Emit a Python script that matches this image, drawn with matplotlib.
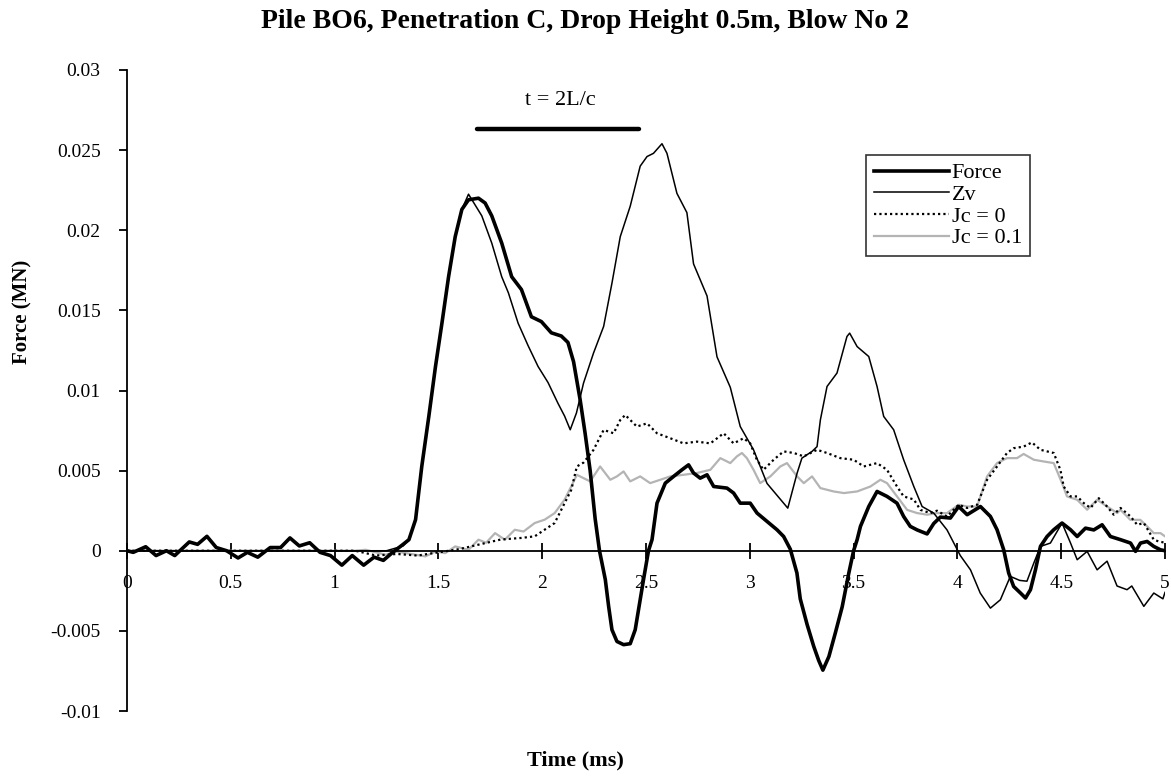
import matplotlib
matplotlib.use("Agg")
import matplotlib.pyplot as plt
from matplotlib.ticker import FixedLocator, FuncFormatter

plt.rcParams["font.family"] = ["Liberation Serif", "DejaVu Serif"]

# Valeurs : (temps en ms, force en mN)
force_pts = [
    (0, 0), (0.03, -0.1), (0.09, 0.25), (0.14, -0.3), (0.19, 0), (0.23, -0.3),
    (0.30, 0.55), (0.34, 0.4), (0.385, 0.9), (0.43, 0.2), (0.48, 0), (0.535, -0.45),
    (0.58, -0.1), (0.63, -0.4), (0.69, 0.2), (0.74, 0.2), (0.785, 0.8), (0.83, 0.3),
    (0.88, 0.5), (0.93, -0.1), (0.98, -0.3), (1.035, -0.9), (1.085, -0.3), (1.14, -0.9),
    (1.19, -0.4), (1.235, -0.6), (1.28, -0.1), (1.33, 0.4), (1.358, 0.69), (1.39, 1.94),
    (1.42, 5.27), (1.454, 8.4), (1.486, 11.5), (1.517, 14.2), (1.549, 17.1), (1.581, 19.6),
    (1.613, 21.3), (1.645, 21.9), (1.693, 22.0), (1.725, 21.7), (1.757, 20.9), (1.805, 19.2),
    (1.853, 17.1), (1.9, 16.3), (1.948, 14.6), (1.996, 14.3), (2.044, 13.6), (2.092, 13.4),
    (2.124, 13.0), (2.151, 11.8), (2.183, 9.4), (2.207, 7.3), (2.231, 5.0), (2.255, 2.0),
    (2.276, 0), (2.304, -1.8), (2.32, -3.47), (2.336, -4.93), (2.36, -5.66), (2.392, -5.86),
    (2.424, -5.8), (2.448, -4.93), (2.464, -3.68), (2.488, -1.8), (2.512, 0), (2.529, 0.69),
    (2.553, 2.97), (2.593, 4.22), (2.633, 4.64), (2.673, 5.05), (2.705, 5.36), (2.729, 4.85),
    (2.761, 4.53), (2.794, 4.74), (2.826, 4.01), (2.89, 3.91), (2.922, 3.6), (2.954, 2.97),
    (3.002, 2.97), (3.035, 2.35), (3.083, 1.83), (3.131, 1.31), (3.163, 0.89), (3.195, 0.1),
    (3.227, -1.39), (3.243, -3.0), (3.276, -4.6), (3.308, -5.97), (3.332, -6.85), (3.352, -7.45),
    (3.381, -6.6), (3.412, -5.13), (3.445, -3.5), (3.477, -1.39), (3.5, 0), (3.517, 0.69),
    (3.533, 1.52), (3.573, 2.76), (3.613, 3.7), (3.661, 3.39), (3.709, 2.97), (3.741, 2.14),
    (3.773, 1.52), (3.806, 1.3), (3.854, 1.05), (3.886, 1.7), (3.918, 2.1), (3.966, 2.04),
    (4.006, 2.76), (4.047, 2.25), (4.111, 2.76), (4.159, 2.14), (4.191, 1.31), (4.223, 0.06),
    (4.247, -1.39), (4.271, -2.23), (4.304, -2.64), (4.328, -2.95), (4.352, -2.43), (4.376, -1.19),
    (4.4, 0.27), (4.432, 0.89), (4.464, 1.31), (4.504, 1.73), (4.545, 1.31), (4.577, 0.89),
    (4.617, 1.41), (4.657, 1.3), (4.697, 1.62), (4.737, 0.89), (4.786, 0.69), (4.834, 0.48),
    (4.858, -0.04), (4.882, 0.48), (4.914, 0.58), (4.946, 0.27), (4.978, 0.06), (5.0, 0.0),
]

zv_pts = [
    (0, 0), (1.0, 0), (1.25, 0), (1.33, 0.3), (1.358, 0.69), (1.39, 1.94), (1.42, 5.27),
    (1.454, 8.4), (1.486, 11.5), (1.517, 14.2), (1.549, 17.1), (1.581, 19.6), (1.613, 21.3),
    (1.645, 22.25), (1.709, 20.9), (1.757, 19.2), (1.805, 17.1), (1.837, 16.1), (1.884, 14.2),
    (1.932, 12.8), (1.98, 11.5), (2.028, 10.5), (2.076, 9.2), (2.108, 8.4), (2.135, 7.55),
    (2.165, 8.6), (2.199, 10.46), (2.247, 12.33), (2.296, 14.0), (2.336, 16.7), (2.376, 19.6),
    (2.424, 21.5), (2.472, 24.0), (2.505, 24.6), (2.536, 24.8), (2.577, 25.4), (2.601, 24.8),
    (2.649, 22.3), (2.697, 21.1), (2.729, 17.9), (2.794, 15.9), (2.842, 12.1), (2.906, 10.2),
    (2.954, 7.75), (3.018, 6.3), (3.083, 4.2), (3.183, 2.66), (3.228, 4.85), (3.251, 5.78),
    (3.3, 6.2), (3.324, 6.5), (3.34, 8.17), (3.372, 10.25), (3.42, 11.09), (3.468, 13.37),
    (3.481, 13.58), (3.517, 12.74), (3.573, 12.12), (3.613, 10.25), (3.645, 8.38), (3.693, 7.55),
    (3.741, 5.68), (3.79, 4.01), (3.83, 2.76), (3.886, 2.35), (3.95, 1.3), (4.014, -0.3),
    (4.063, -1.19), (4.11, -2.64), (4.159, -3.58), (4.207, -3.06), (4.255, -1.6), (4.3, -1.85),
    (4.335, -1.9), (4.368, -0.77), (4.4, 0.27), (4.448, 0.48), (4.504, 1.73), (4.545, 0.48),
    (4.577, -0.56), (4.625, -0.04), (4.673, -1.19), (4.721, -0.65), (4.769, -2.2), (4.817, -2.43),
    (4.84, -2.2), (4.898, -3.47), (4.946, -2.64), (4.99, -3.0), (5.0, -2.6),
]

jc0_pts = [
    (0, 0), (0.8, 0), (1.1, 0), (1.2, -0.3), (1.3, -0.2), (1.4, -0.3), (1.5, -0.1), (1.6, 0.1),
    (1.7, 0.4), (1.8, 0.7), (1.9, 0.8), (1.964, 0.9), (2.06, 1.73), (2.14, 3.8), (2.167, 5.26),
    (2.199, 5.5), (2.247, 6.29), (2.296, 7.54), (2.344, 7.33), (2.376, 8.16), (2.4, 8.47),
    (2.456, 7.75), (2.505, 7.95), (2.553, 7.33), (2.617, 7.02), (2.681, 6.7), (2.745, 6.81),
    (2.81, 6.7), (2.874, 7.33), (2.922, 6.7), (2.97, 7.02), (3.002, 6.7), (3.034, 5.68),
    (3.066, 5.05), (3.115, 5.68), (3.163, 6.2), (3.212, 6.1), (3.26, 5.89), (3.324, 6.3),
    (3.372, 6.1), (3.436, 5.78), (3.5, 5.68), (3.549, 5.26), (3.613, 5.47), (3.661, 5.05),
    (3.709, 4.01), (3.741, 3.39), (3.79, 3.2), (3.822, 2.55), (3.87, 2.35), (3.902, 2.5),
    (3.95, 2.14), (4.006, 2.87), (4.047, 2.67), (4.095, 2.87), (4.143, 4.43), (4.191, 5.26),
    (4.239, 6.1), (4.271, 6.4), (4.319, 6.5), (4.359, 6.76), (4.4, 6.3), (4.432, 6.2),
    (4.464, 6.1), (4.496, 5.05), (4.512, 4.01), (4.545, 3.39), (4.577, 3.39), (4.609, 2.97),
    (4.641, 2.67), (4.681, 3.28), (4.721, 2.76), (4.753, 2.25), (4.786, 2.67), (4.834, 2.14),
    (4.866, 1.62), (4.898, 1.73), (4.946, 0.69), (4.97, 0.58), (5.0, 0.5),
]

jc01_pts = [
    (0, 0), (1.1, 0), (1.15, 0.06), (1.246, -0.25), (1.3, -0.05), (1.342, -0.15), (1.39, -0.25),
    (1.438, -0.35), (1.486, -0.04), (1.533, -0.15), (1.581, 0.27), (1.645, 0.06), (1.693, 0.69),
    (1.73, 0.5), (1.773, 1.1), (1.82, 0.69), (1.868, 1.31), (1.91, 1.2), (1.964, 1.73),
    (2.012, 1.94), (2.06, 2.35), (2.108, 3.19), (2.14, 4.02), (2.167, 4.74), (2.199, 4.53),
    (2.231, 4.33), (2.279, 5.26), (2.328, 4.43), (2.36, 4.64), (2.392, 4.95), (2.424, 4.33),
    (2.472, 4.64), (2.52, 4.22), (2.569, 4.43), (2.617, 4.64), (2.681, 4.74), (2.745, 4.85),
    (2.81, 5.05), (2.858, 5.78), (2.906, 5.47), (2.938, 5.89), (2.962, 6.1), (2.986, 5.78),
    (3.018, 5.05), (3.05, 4.22), (3.099, 4.64), (3.147, 5.26), (3.179, 5.47), (3.228, 4.64),
    (3.26, 4.22), (3.3, 4.64), (3.34, 3.91), (3.404, 3.7), (3.453, 3.6), (3.517, 3.7),
    (3.581, 4.01), (3.629, 4.43), (3.661, 4.22), (3.709, 3.39), (3.758, 2.55), (3.806, 2.35),
    (3.854, 2.25), (3.902, 2.35), (3.95, 2.35), (4.006, 2.87), (4.047, 2.76), (4.095, 2.76),
    (4.143, 4.64), (4.191, 5.47), (4.239, 5.78), (4.287, 5.78), (4.319, 6.04), (4.368, 5.68),
    (4.416, 5.57), (4.464, 5.47), (4.504, 4.22), (4.528, 3.39), (4.577, 3.18), (4.625, 2.56),
    (4.673, 3.18), (4.721, 2.76), (4.77, 2.35), (4.785, 2.56), (4.833, 1.93), (4.881, 1.93),
    (4.914, 1.52), (4.946, 1.1), (4.978, 1.1), (5.0, 0.9),
]

x_ticks = [0, 0.5, 1, 1.5, 2, 2.5, 3, 3.5, 4, 4.5, 5]
y_ticks = [-0.01, -0.005, 0, 0.005, 0.01, 0.015, 0.02, 0.025, 0.03]

# repère t = 2L/c
t_bar_start, t_bar_end, t_bar_level = 1.687, 2.467, 0.0263
t_label_x, t_label_y = 2.087, 0.0281


def split(pts):
    t, v = zip(*pts)
    return list(t), [x / 1000.0 for x in v]  # mN -> MN


fig = plt.figure(figsize=(11.71, 7.76), dpi=100)
ax = fig.add_axes([127 / 1171, 1 - 711 / 776, 1038 / 1171, 641 / 776])

t, v = split(jc01_pts)
l4, = ax.plot(t, v, color="#b4b4b4", lw=1.6, label="Jc = 0.1")
t, v = split(jc0_pts)
l3, = ax.plot(t, v, color="black", lw=1.6, ls=(0, (1, 1.4)), label="Jc = 0")
t, v = split(zv_pts)
l2, = ax.plot(t, v, color="black", lw=1.1, label="Zv")
t, v = split(force_pts)
l1, = ax.plot(t, v, color="black", lw=2.6, label="Force")

ax.plot([t_bar_start, t_bar_end], [t_bar_level, t_bar_level], color="black", lw=3.2,
        solid_capstyle="round")
ax.text(t_label_x, t_label_y, "t = 2L/c", ha="center", va="center", fontsize=16)

ax.set_xlim(0, 5)
ax.set_ylim(-0.01, 0.03)
ax.spines["top"].set_visible(False)
ax.spines["right"].set_visible(False)
ax.spines["bottom"].set_position(("data", 0))
ax.spines["left"].set_linewidth(1.3)
ax.spines["bottom"].set_linewidth(1.3)

ax.xaxis.set_major_locator(FixedLocator(x_ticks))
ax.yaxis.set_major_locator(FixedLocator(y_ticks))
fmt = FuncFormatter(lambda val, pos: "%g" % val)
ax.xaxis.set_major_formatter(fmt)
ax.yaxis.set_major_formatter(fmt)
ax.tick_params(axis="x", direction="inout", length=11, width=1.3, labelsize=14, pad=12)
ax.tick_params(axis="y", direction="out", length=6, width=1.3, labelsize=14, pad=13)

leg = ax.legend(handles=[l1, l2, l3, l4], loc="upper left",
                bbox_to_anchor=(866 / 1171, 1 - 155 / 776), bbox_transform=fig.transFigure,
                fontsize=16, frameon=True, fancybox=False, borderaxespad=0,
                handlelength=3.4, handletextpad=0.1, labelspacing=0.05, borderpad=0.35)
leg.get_frame().set_edgecolor("black")
leg.get_frame().set_linewidth(1.2)

fig.text(585 / 1171, 1 - 21 / 776, "Pile BO6, Penetration C, Drop Height 0.5m, Blow No 2",
         ha="center", va="center", fontsize=20, fontweight="bold")
fig.text(575 / 1171, 1 - 760 / 776, "Time (ms)", ha="center", va="center",
         fontsize=16, fontweight="bold")
fig.text(22 / 1171, 1 - 312 / 776, "Force (MN)", ha="center", va="center", rotation=90,
         fontsize=15, fontweight="bold")

fig.savefig("out.png", dpi=100)
